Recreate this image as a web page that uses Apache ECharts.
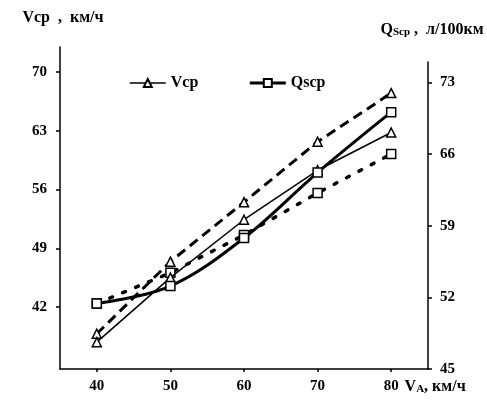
<!DOCTYPE html>
<html><head><meta charset="utf-8">
<script src="https://cdn.jsdelivr.net/npm/echarts@6/dist/echarts.min.js"></script>
<style>html,body{margin:0;padding:0;background:#fff}#c{width:487px;height:405px}</style>
</head><body><div id="c"></div>
<script>
const speeds = [40, 50, 60, 70, 80];
const vcpSolid = [37.8, 45.5, 52.4, 58.3, 62.8];
const vcpDashed = [38.8, 47.4, 54.5, 61.7, 67.5];
const qscpSolid = [51.4, 53.1, 57.8, 64.2, 70.1];
const qscpDotted = [51.4, 54.4, 58.1, 62.2, 66.0];
const xTicks = [40, 50, 60, 70, 80];
const leftTicks = [42, 49, 56, 63, 70];
const rightTicks = [45, 52, 59, 66, 73];

const FF = "'Liberation Serif', 'Times New Roman', serif";
const pairs = arr => speeds.map((s, i) => [s, arr[i]]);
const lbl = { fontFamily: FF, fontWeight: 'bold', fontSize: 15, color: '#000' };
const axLine = { show: true, onZero: false, lineStyle: { color: '#000', width: 1.5 } };
const mk = { color: '#fff', borderColor: '#000', borderWidth: 1.5 };

const chart = echarts.init(document.getElementById('c'), null, { renderer: 'canvas' });
chart.setOption({
  animation: false,
  backgroundColor: '#fff',
  grid: [
    { left: 60, right: 59, top: 47, bottom: 36 },
    { left: 60, right: 59, top: 62, bottom: 36 }
  ],
  legend: {
    data: [
      { name: 'Vср', lineStyle: { width: 1.5 } },
      { name: 'Qsср', lineStyle: { width: 3 } }
    ],
    left: 124, top: 70,
    itemWidth: 36, itemHeight: 10, itemGap: 50,
    textStyle: { fontFamily: FF, fontWeight: 'bold', fontSize: 16, color: '#000' }
  },
  xAxis: [
    {
      gridIndex: 0, type: 'value', min: 35, max: 85,
      axisLine: axLine,
      axisTick: { show: true, customValues: xTicks, length: 3, lineStyle: { color: '#000', width: 1.5 } },
      axisLabel: Object.assign({ customValues: xTicks, margin: 10 }, lbl),
      splitLine: { show: false },
      name: '{v|V}{s|A}{v|, км/ч}',
      nameLocation: 'end', nameGap: -26,
      nameTextStyle: {
        verticalAlign: 'top', padding: [10, 0, 0, 0],
        rich: {
          v: { fontFamily: FF, fontWeight: 'bold', fontSize: 16, color: '#000', verticalAlign: 'bottom' },
          s: { fontFamily: FF, fontWeight: 'bold', fontSize: 11, color: '#000', verticalAlign: 'bottom' }
        }
      }
    },
    { gridIndex: 1, type: 'value', min: 35, max: 85, show: false }
  ],
  yAxis: [
    {
      gridIndex: 0, type: 'value', min: 34.6, max: 73, position: 'left',
      axisLine: axLine,
      axisTick: { show: true, customValues: leftTicks, length: 4, lineStyle: { color: '#000', width: 1.5 } },
      axisLabel: Object.assign({ customValues: leftTicks, margin: 13 }, lbl),
      splitLine: { show: false },
      name: 'Vср  ,  км/ч', nameLocation: 'end', nameGap: 21,
      nameTextStyle: { fontFamily: FF, fontWeight: 'bold', fontSize: 16, color: '#000', align: 'center', padding: [0, 0, 0, 6] }
    },
    {
      gridIndex: 1, type: 'value', min: 45, max: 75, position: 'right',
      axisLine: axLine,
      axisTick: { show: true, customValues: rightTicks, length: 4, lineStyle: { color: '#000', width: 1.5 } },
      axisLabel: Object.assign({ customValues: rightTicks, margin: 12 }, lbl),
      splitLine: { show: false },
      name: '{a|Q}{s|Sср}{a| ,  л/100км}', nameLocation: 'end', nameGap: 24,
      nameTextStyle: {
        align: 'center', padding: [0, 0, 0, 8],
        rich: {
          a: { fontFamily: FF, fontWeight: 'bold', fontSize: 16, color: '#000', verticalAlign: 'bottom' },
          s: { fontFamily: FF, fontWeight: 'bold', fontSize: 11, color: '#000', verticalAlign: 'bottom' }
        }
      }
    }
  ],
  series: [
    {
      name: 'Vср', type: 'line', xAxisIndex: 0, yAxisIndex: 0, data: pairs(vcpSolid),
      symbol: 'triangle', symbolSize: 9, itemStyle: mk,
      lineStyle: { color: '#000', width: 1.5 }, z: 3
    },
    {
      name: 'Qsср', type: 'line', xAxisIndex: 1, yAxisIndex: 1, data: pairs(qscpSolid),
      symbol: 'rect', symbolSize: 9, itemStyle: mk, smooth: 0.35,
      lineStyle: { color: '#000', width: 3 }, z: 3
    },
    {
      name: 'Vср', type: 'line', xAxisIndex: 0, yAxisIndex: 0, data: pairs(vcpDashed),
      symbol: 'triangle', symbolSize: 9, itemStyle: mk,
      lineStyle: { color: '#000', width: 3, type: [10, 6] }, z: 2
    },
    {
      name: 'Qsср', type: 'line', xAxisIndex: 1, yAxisIndex: 1, data: pairs(qscpDotted),
      symbol: 'rect', symbolSize: 9, itemStyle: mk,
      lineStyle: { color: '#000', width: 3.5, type: [3, 11], cap: 'round' }, z: 2
    }
  ]
});
</script>
</body></html>
